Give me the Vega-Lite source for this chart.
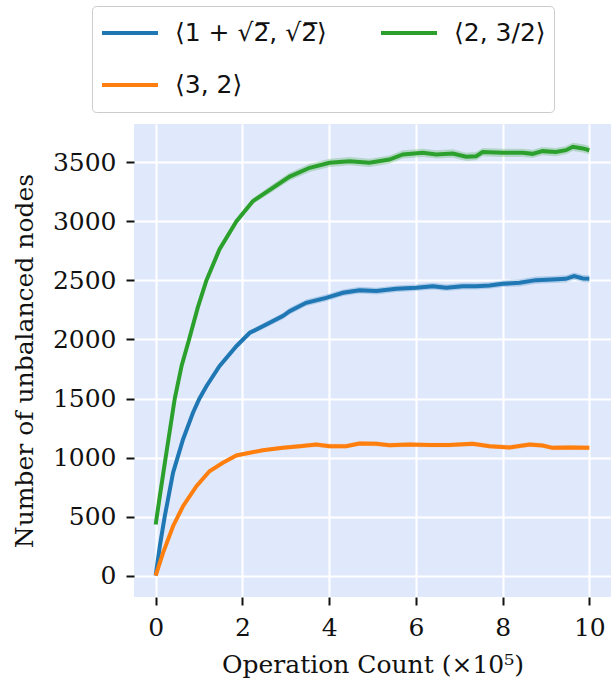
{
  "$schema": "https://vega.github.io/schema/vega-lite/v6.json",
  "autosize": {"type": "none"},
  "padding": {"left": 134, "top": 124, "right": 0, "bottom": 84},
  "width": 477,
  "height": 473,
  "background": "white",
  "config": {
    "view": {"fill": "#e0e8fc", "stroke": null},
    "axis": {
      "labelFont": "DejaVu Serif",
      "titleFont": "DejaVu Serif",
      "labelFontSize": 25,
      "titleFontSize": 25,
      "labelColor": "#111111",
      "titleColor": "#111111",
      "titleFontWeight": "normal",
      "domain": false,
      "tickColor": "#111111",
      "tickSize": 8,
      "tickWidth": 2,
      "gridColor": "white",
      "gridWidth": 2,
      "gridOpacity": 1,
      "labelPadding": 10,
      "format": "d"
    }
  },
  "datasets": {
    "d": [
      {"s": "⟨1 + √2̅, √2̅⟩", "x": 0, "y": 0, "lo": 0, "hi": 0},
      {"s": "⟨1 + √2̅, √2̅⟩", "x": 0.1, "y": 260, "lo": 252, "hi": 268},
      {"s": "⟨1 + √2̅, √2̅⟩", "x": 0.21, "y": 503, "lo": 493, "hi": 513},
      {"s": "⟨1 + √2̅, √2̅⟩", "x": 0.4, "y": 870, "lo": 858, "hi": 882},
      {"s": "⟨1 + √2̅, √2̅⟩", "x": 0.63, "y": 1153, "lo": 1140, "hi": 1166},
      {"s": "⟨1 + √2̅, √2̅⟩", "x": 0.86, "y": 1379, "lo": 1365, "hi": 1393},
      {"s": "⟨1 + √2̅, √2̅⟩", "x": 1.01, "y": 1500, "lo": 1485, "hi": 1515},
      {"s": "⟨1 + √2̅, √2̅⟩", "x": 1.17, "y": 1604, "lo": 1588, "hi": 1620},
      {"s": "⟨1 + √2̅, √2̅⟩", "x": 1.47, "y": 1774, "lo": 1756, "hi": 1792},
      {"s": "⟨1 + √2̅, √2̅⟩", "x": 1.86, "y": 1943, "lo": 1923, "hi": 1963},
      {"s": "⟨1 + √2̅, √2̅⟩", "x": 2.17, "y": 2057, "lo": 2035, "hi": 2079},
      {"s": "⟨1 + √2̅, √2̅⟩", "x": 2.55, "y": 2127, "lo": 2102, "hi": 2152},
      {"s": "⟨1 + √2̅, √2̅⟩", "x": 2.93, "y": 2198, "lo": 2172, "hi": 2224},
      {"s": "⟨1 + √2̅, √2̅⟩", "x": 3.09, "y": 2240, "lo": 2212, "hi": 2268},
      {"s": "⟨1 + √2̅, √2̅⟩", "x": 3.47, "y": 2311, "lo": 2283, "hi": 2339},
      {"s": "⟨1 + √2̅, √2̅⟩", "x": 3.93, "y": 2353, "lo": 2325, "hi": 2381},
      {"s": "⟨1 + √2̅, √2̅⟩", "x": 4.32, "y": 2396, "lo": 2368, "hi": 2424},
      {"s": "⟨1 + √2̅, √2̅⟩", "x": 4.7, "y": 2418, "lo": 2390, "hi": 2446},
      {"s": "⟨1 + √2̅, √2̅⟩", "x": 5.09, "y": 2410, "lo": 2382, "hi": 2438},
      {"s": "⟨1 + √2̅, √2̅⟩", "x": 5.55, "y": 2430, "lo": 2402, "hi": 2458},
      {"s": "⟨1 + √2̅, √2̅⟩", "x": 6.01, "y": 2438, "lo": 2410, "hi": 2466},
      {"s": "⟨1 + √2̅, √2̅⟩", "x": 6.39, "y": 2452, "lo": 2424, "hi": 2480},
      {"s": "⟨1 + √2̅, √2̅⟩", "x": 6.7, "y": 2438, "lo": 2410, "hi": 2466},
      {"s": "⟨1 + √2̅, √2̅⟩", "x": 7.08, "y": 2452, "lo": 2424, "hi": 2480},
      {"s": "⟨1 + √2̅, √2̅⟩", "x": 7.39, "y": 2452, "lo": 2424, "hi": 2480},
      {"s": "⟨1 + √2̅, √2̅⟩", "x": 7.7, "y": 2458, "lo": 2430, "hi": 2486},
      {"s": "⟨1 + √2̅, √2̅⟩", "x": 8.0, "y": 2472, "lo": 2444, "hi": 2500},
      {"s": "⟨1 + √2̅, √2̅⟩", "x": 8.39, "y": 2480, "lo": 2450, "hi": 2510},
      {"s": "⟨1 + √2̅, √2̅⟩", "x": 8.77, "y": 2503, "lo": 2473, "hi": 2533},
      {"s": "⟨1 + √2̅, √2̅⟩", "x": 9.15, "y": 2508, "lo": 2478, "hi": 2538},
      {"s": "⟨1 + √2̅, √2̅⟩", "x": 9.46, "y": 2514, "lo": 2484, "hi": 2544},
      {"s": "⟨1 + √2̅, √2̅⟩", "x": 9.65, "y": 2537, "lo": 2507, "hi": 2567},
      {"s": "⟨1 + √2̅, √2̅⟩", "x": 9.85, "y": 2517, "lo": 2487, "hi": 2547},
      {"s": "⟨1 + √2̅, √2̅⟩", "x": 10.0, "y": 2514, "lo": 2484, "hi": 2544},

      {"s": "⟨2, 3/2⟩", "x": 0, "y": 432, "lo": 428, "hi": 436},
      {"s": "⟨2, 3/2⟩", "x": 0.09, "y": 660, "lo": 652, "hi": 668},
      {"s": "⟨2, 3/2⟩", "x": 0.23, "y": 1000, "lo": 990, "hi": 1010},
      {"s": "⟨2, 3/2⟩", "x": 0.44, "y": 1500, "lo": 1488, "hi": 1512},
      {"s": "⟨2, 3/2⟩", "x": 0.6, "y": 1780, "lo": 1766, "hi": 1794},
      {"s": "⟨2, 3/2⟩", "x": 0.77, "y": 2000, "lo": 1985, "hi": 2015},
      {"s": "⟨2, 3/2⟩", "x": 0.97, "y": 2270, "lo": 2254, "hi": 2286},
      {"s": "⟨2, 3/2⟩", "x": 1.17, "y": 2500, "lo": 2482, "hi": 2518},
      {"s": "⟨2, 3/2⟩", "x": 1.47, "y": 2763, "lo": 2743, "hi": 2783},
      {"s": "⟨2, 3/2⟩", "x": 1.86, "y": 3000, "lo": 2978, "hi": 3022},
      {"s": "⟨2, 3/2⟩", "x": 2.24, "y": 3172, "lo": 3147, "hi": 3197},
      {"s": "⟨2, 3/2⟩", "x": 2.7, "y": 3285, "lo": 3255, "hi": 3315},
      {"s": "⟨2, 3/2⟩", "x": 3.09, "y": 3380, "lo": 3348, "hi": 3412},
      {"s": "⟨2, 3/2⟩", "x": 3.55, "y": 3455, "lo": 3420, "hi": 3490},
      {"s": "⟨2, 3/2⟩", "x": 4.01, "y": 3497, "lo": 3462, "hi": 3532},
      {"s": "⟨2, 3/2⟩", "x": 4.47, "y": 3511, "lo": 3476, "hi": 3546},
      {"s": "⟨2, 3/2⟩", "x": 4.93, "y": 3497, "lo": 3462, "hi": 3532},
      {"s": "⟨2, 3/2⟩", "x": 5.39, "y": 3525, "lo": 3490, "hi": 3560},
      {"s": "⟨2, 3/2⟩", "x": 5.7, "y": 3568, "lo": 3533, "hi": 3603},
      {"s": "⟨2, 3/2⟩", "x": 6.16, "y": 3582, "lo": 3547, "hi": 3617},
      {"s": "⟨2, 3/2⟩", "x": 6.47, "y": 3568, "lo": 3533, "hi": 3603},
      {"s": "⟨2, 3/2⟩", "x": 6.85, "y": 3576, "lo": 3541, "hi": 3611},
      {"s": "⟨2, 3/2⟩", "x": 7.16, "y": 3548, "lo": 3513, "hi": 3583},
      {"s": "⟨2, 3/2⟩", "x": 7.39, "y": 3553, "lo": 3518, "hi": 3588},
      {"s": "⟨2, 3/2⟩", "x": 7.54, "y": 3588, "lo": 3553, "hi": 3623},
      {"s": "⟨2, 3/2⟩", "x": 8.0, "y": 3582, "lo": 3547, "hi": 3617},
      {"s": "⟨2, 3/2⟩", "x": 8.46, "y": 3582, "lo": 3547, "hi": 3617},
      {"s": "⟨2, 3/2⟩", "x": 8.69, "y": 3573, "lo": 3538, "hi": 3608},
      {"s": "⟨2, 3/2⟩", "x": 8.92, "y": 3596, "lo": 3561, "hi": 3631},
      {"s": "⟨2, 3/2⟩", "x": 9.23, "y": 3588, "lo": 3553, "hi": 3623},
      {"s": "⟨2, 3/2⟩", "x": 9.46, "y": 3604, "lo": 3569, "hi": 3639},
      {"s": "⟨2, 3/2⟩", "x": 9.62, "y": 3633, "lo": 3598, "hi": 3668},
      {"s": "⟨2, 3/2⟩", "x": 9.85, "y": 3619, "lo": 3584, "hi": 3654},
      {"s": "⟨2, 3/2⟩", "x": 10.0, "y": 3604, "lo": 3569, "hi": 3639},

      {"s": "⟨3, 2⟩", "x": 0, "y": 0, "lo": 0, "hi": 0},
      {"s": "⟨3, 2⟩", "x": 0.17, "y": 192, "lo": 186, "hi": 198},
      {"s": "⟨3, 2⟩", "x": 0.4, "y": 418, "lo": 410, "hi": 426},
      {"s": "⟨3, 2⟩", "x": 0.63, "y": 587, "lo": 578, "hi": 596},
      {"s": "⟨3, 2⟩", "x": 0.94, "y": 757, "lo": 746, "hi": 768},
      {"s": "⟨3, 2⟩", "x": 1.24, "y": 884, "lo": 872, "hi": 896},
      {"s": "⟨3, 2⟩", "x": 1.55, "y": 955, "lo": 942, "hi": 968},
      {"s": "⟨3, 2⟩", "x": 1.86, "y": 1017, "lo": 1003, "hi": 1031},
      {"s": "⟨3, 2⟩", "x": 2.17, "y": 1040, "lo": 1024, "hi": 1056},
      {"s": "⟨3, 2⟩", "x": 2.47, "y": 1062, "lo": 1045, "hi": 1079},
      {"s": "⟨3, 2⟩", "x": 2.93, "y": 1082, "lo": 1064, "hi": 1100},
      {"s": "⟨3, 2⟩", "x": 3.32, "y": 1096, "lo": 1077, "hi": 1115},
      {"s": "⟨3, 2⟩", "x": 3.7, "y": 1110, "lo": 1090, "hi": 1130},
      {"s": "⟨3, 2⟩", "x": 4.01, "y": 1096, "lo": 1076, "hi": 1116},
      {"s": "⟨3, 2⟩", "x": 4.39, "y": 1096, "lo": 1076, "hi": 1116},
      {"s": "⟨3, 2⟩", "x": 4.7, "y": 1119, "lo": 1099, "hi": 1139},
      {"s": "⟨3, 2⟩", "x": 5.09, "y": 1116, "lo": 1096, "hi": 1136},
      {"s": "⟨3, 2⟩", "x": 5.39, "y": 1104, "lo": 1084, "hi": 1124},
      {"s": "⟨3, 2⟩", "x": 5.85, "y": 1110, "lo": 1090, "hi": 1130},
      {"s": "⟨3, 2⟩", "x": 6.31, "y": 1106, "lo": 1086, "hi": 1126},
      {"s": "⟨3, 2⟩", "x": 6.77, "y": 1106, "lo": 1086, "hi": 1126},
      {"s": "⟨3, 2⟩", "x": 7.31, "y": 1116, "lo": 1096, "hi": 1136},
      {"s": "⟨3, 2⟩", "x": 7.7, "y": 1096, "lo": 1076, "hi": 1116},
      {"s": "⟨3, 2⟩", "x": 8.16, "y": 1085, "lo": 1065, "hi": 1105},
      {"s": "⟨3, 2⟩", "x": 8.62, "y": 1110, "lo": 1090, "hi": 1130},
      {"s": "⟨3, 2⟩", "x": 8.92, "y": 1102, "lo": 1082, "hi": 1122},
      {"s": "⟨3, 2⟩", "x": 9.15, "y": 1082, "lo": 1062, "hi": 1102},
      {"s": "⟨3, 2⟩", "x": 9.54, "y": 1085, "lo": 1065, "hi": 1105},
      {"s": "⟨3, 2⟩", "x": 10.0, "y": 1082, "lo": 1062, "hi": 1102}
    ]
  },
  "data": {"name": "d"},
  "encoding": {
    "x": {
      "field": "x", "type": "quantitative",
      "scale": {"domain": [-0.5, 10.5], "nice": false, "zero": false},
      "axis": {"values": [0, 2, 4, 6, 8, 10], "title": "Operation Count (×10⁵)", "titlePadding": 12}
    },
    "color": {
      "field": "s", "type": "nominal",
      "scale": {"domain": ["⟨1 + √2̅, √2̅⟩", "⟨2, 3/2⟩", "⟨3, 2⟩"], "range": ["#1f77b4", "#2ca02c", "#ff7f0e"]},
      "legend": {
        "orient": "none",
        "legendX": -42,
        "legendY": -118,
        "title": null,
        "columns": 2,
        "direction": "horizontal",
        "symbolType": "stroke",
        "symbolSize": 3136,
        "symbolStrokeWidth": 4,
        "symbolOpacity": 1,
        "clipHeight": 38,
        "labelFont": "DejaVu Sans",
        "labelFontSize": 25,
        "labelColor": "#111111",
        "labelOffset": 15,
        "labelLimit": 400,
        "columnPadding": 52,
        "rowPadding": 14,
        "padding": 8,
        "strokeColor": "#cccccc",
        "fillColor": "white",
        "cornerRadius": 4
      }
    }
  },
  "layer": [
    {
      "mark": {"type": "area", "opacity": 0.25},
      "encoding": {
        "y": {"field": "lo", "type": "quantitative", "scale": {"domain": [-182, 3826], "nice": false, "zero": false}},
        "y2": {"field": "hi"}
      }
    },
    {
      "mark": {"type": "line", "strokeWidth": 4},
      "encoding": {
        "y": {
          "field": "y", "type": "quantitative",
          "scale": {"domain": [-182, 3826], "nice": false, "zero": false},
          "axis": {"values": [0, 500, 1000, 1500, 2000, 2500, 3000, 3500], "title": "Number of unbalanced nodes", "titlePadding": 15}
        }
      }
    }
  ]
}
